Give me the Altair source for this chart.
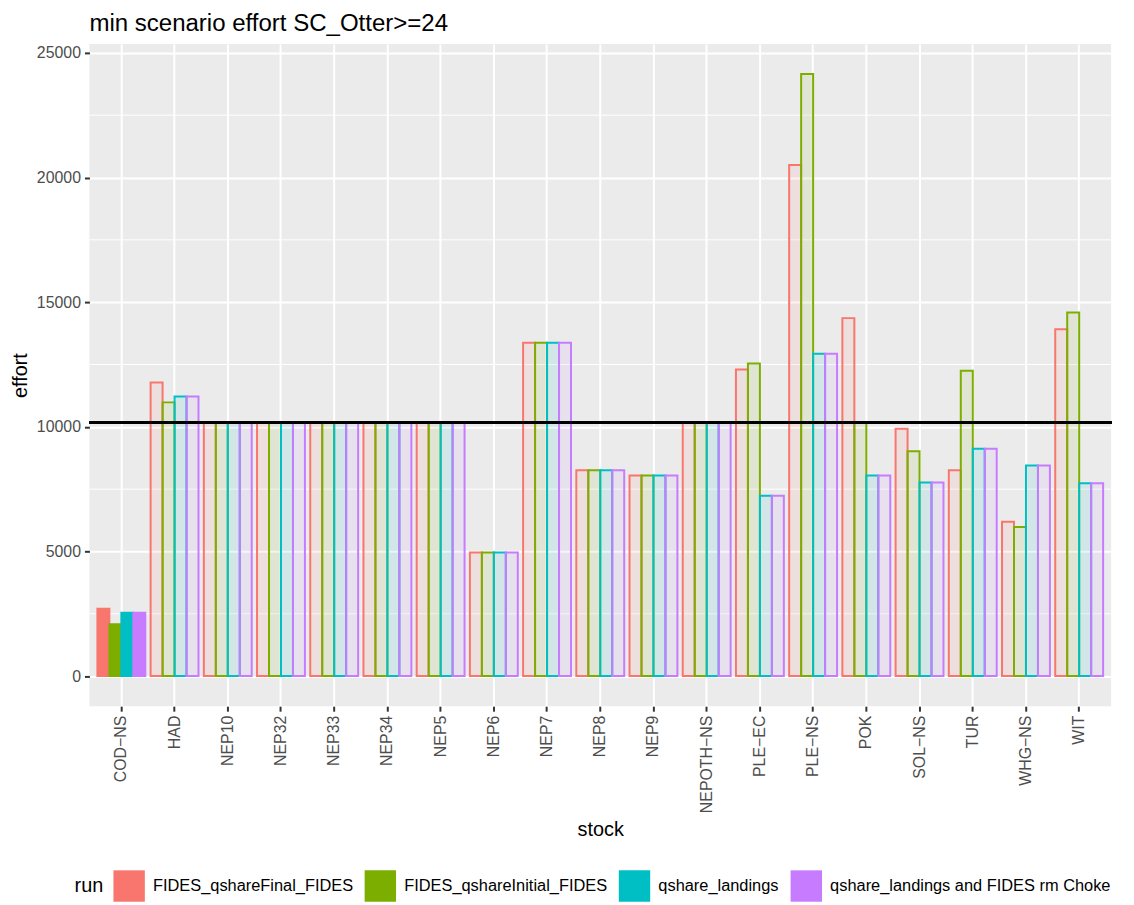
import altair as alt
import pandas as pd

stocks = ["COD-NS", "HAD", "NEP10", "NEP32", "NEP33", "NEP34", "NEP5", "NEP6", "NEP7",
          "NEP8", "NEP9", "NEPOTH-NS", "PLE-EC", "PLE-NS", "POK", "SOL-NS", "TUR",
          "WHG-NS", "WIT"]
runs = ["FIDES_qshareFinal_FIDES", "FIDES_qshareInitial_FIDES", "qshare_landings",
        "qshare_landings and FIDES rm Choke"]

qshare_final = [2700, 11780, 10170, 10170, 10170, 10170, 10170, 4960, 13370, 8260, 8050,
                10170, 12300, 20500, 14360, 9920, 8260, 6190, 13910]
qshare_initial = [2080, 10980, 10170, 10170, 10170, 10170, 10170, 4960, 13370, 8260, 8050,
                  10170, 12540, 24150, 10170, 9020, 12250, 5980, 14590]
qshare_landings = [2540, 11220, 10170, 10170, 10170, 10170, 10170, 4960, 13370, 8260, 8050,
                   10170, 7230, 12930, 8050, 7770, 9120, 8450, 7740]
landings_rm_choke = [2540, 11220, 10170, 10170, 10170, 10170, 10170, 4960, 13370, 8260, 8050,
                     10170, 7230, 12930, 8050, 7770, 9120, 8450, 7740]

status_quo_effort = 10170
y_breaks = [0, 5000, 10000, 15000, 20000, 25000]
minor_breaks = [2500, 7500, 12500, 17500, 22500]
palette = ["#F8766D", "#7CAE00", "#00BFC4", "#C77CFF"]

series = [qshare_final, qshare_initial, qshare_landings, landings_rm_choke]
rows = []
for i, s in enumerate(stocks):
    for r, vals in zip(runs, series):
        rows.append({"stock": s, "run": r, "effort": vals[i]})
df = pd.DataFrame(rows)

FONT = "Liberation Sans"
W, H = 1029, 667
PAD_L, PAD_T, PAD_R = 82, 33, 15
TOTAL_H = 897

ymax = max(max(v) for v in series)
y_scale = alt.Scale(domain=[-0.05 * ymax, 1.05 * ymax], nice=False, zero=False)
color_scale = alt.Scale(domain=runs, range=palette)

x_enc = alt.X(
    "stock:N", sort=stocks,
    scale=alt.Scale(paddingInner=0.1, paddingOuter=0.15),
    axis=alt.Axis(
        title="stock", labelAngle=270, bandPosition=0.5, grid=True, gridColor="white",
        gridWidth=2, domain=False, tickColor="#333333", tickWidth=2, tickSize=5,
        labelFontSize=16, labelColor="#4D4D4D", labelPadding=4, labelFont=FONT,
        labelExpr="replace(datum.label, '-', '\u2212')",
        titleFontSize=20, titleFontWeight="normal", titleColor="black", titleFont=FONT,
        titlePadding=7,
    ),
)

y_axis = alt.Axis(
    title="effort", values=y_breaks, format="d", grid=True, gridColor="white", gridWidth=2,
    domain=False, tickColor="#333333", tickWidth=2, tickSize=5, labelFontSize=16,
    labelColor="#4D4D4D", labelPadding=4, labelFont=FONT, titleFontSize=20,
    titleFontWeight="normal", titleColor="black", titleFont=FONT, titlePadding=6,
)

minor = alt.Chart(pd.DataFrame({"v": minor_breaks})).mark_rule(
    color="white", strokeWidth=1
).encode(y=alt.Y("v:Q", scale=y_scale, axis=y_axis))

bars = alt.Chart(df).mark_bar(strokeWidth=2).encode(
    x=x_enc,
    xOffset=alt.XOffset("run:N", sort=runs, scale=alt.Scale(paddingInner=0, paddingOuter=0)),
    y=alt.Y("effort:Q", scale=y_scale, axis=y_axis),
    fill=alt.Fill(
        "run:N", scale=color_scale,
        legend=alt.Legend(
            orient="none", legendX=-15, legendY=832, direction="horizontal",
            title="run", titleOrient="left", titleAnchor="middle", titleBaseline="middle",
            titleFontSize=20, titleFontWeight="normal", titleColor="black", titleFont=FONT,
            titlePadding=10, labelFontSize=16.5, labelColor="black", labelFont=FONT,
            labelLimit=400, symbolType="square", symbolSize=1000, symbolStrokeWidth=0,
            symbolOpacity=1, labelOffset=8, columnPadding=11, padding=0,
        ),
    ),
    stroke=alt.Stroke("run:N", scale=color_scale, legend=None),
    fillOpacity=alt.condition(alt.datum.stock == "COD-NS", alt.value(1.0), alt.value(0.1)),
)

hline = alt.Chart(df).mark_rule(color="black", strokeWidth=3).encode(
    y=alt.datum(status_quo_effort)
)

chart = alt.layer(minor, bars, hline).properties(
    width=W, height=H,
    title=alt.TitleParams(
        "min scenario effort SC_Otter>=24", anchor="start", frame="group",
        fontSize=24.2, font=FONT, fontWeight="normal", color="black", offset=8,
    ),
    autosize=alt.AutoSizeParams(type="none"),
    padding={"left": PAD_L, "top": PAD_T, "right": PAD_R, "bottom": TOTAL_H - PAD_T - H},
).configure(font=FONT, background="white").configure_view(fill="#EBEBEB", strokeWidth=0)

chart.save("out.html", embed_options={"renderer": "svg", "actions": False})
